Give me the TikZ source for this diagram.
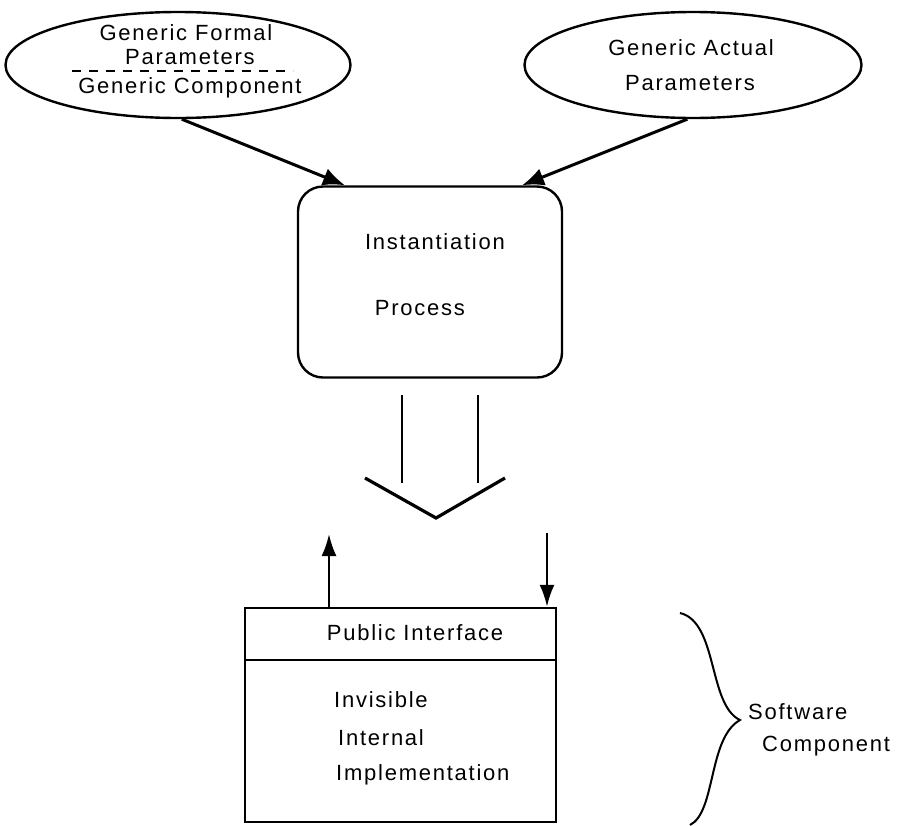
\documentclass[tikz,border=0pt]{standalone}
\usepackage{fontspec}
\setmainfont[LetterSpace=8]{Liberation Sans}
\usetikzlibrary{positioning,shapes.geometric,arrows.meta}

\begin{document}
\begin{tikzpicture}
        [x=1pt,y=-1pt,
         every node/.style={font=\fontsize{22}{26}\selectfont,inner sep=0pt},
         oval/.style={draw,ellipse,line width=2.4pt},
         procbox/.style={draw,rounded corners=25pt,line width=2.4pt},
         compbox/.style={draw,line width=2.4pt},
         feed/.style={line width=3pt,-{Latex[length=22pt,width=18pt]}},
         flow/.style={line width=2.4pt,-{Latex[length=22pt,width=15pt]}}]
        \useasboundingbox (0,0) rectangle (901,825);
        % parameter ovals
        \node[oval,minimum width=345pt,minimum height=106pt] (formal) at (178,65) {};
        \node (formal1) at (186,33) {Generic Formal};
        \node (formal2) at (190,57) {Parameters};
        \node (formal3) at (190,88) {Generic Component};
        \draw[line width=2.2pt,dash pattern=on 9pt off 8pt] (72,71) -- (293,71);
        \node[oval,minimum width=337pt,minimum height=106pt] (actual) at (693,65) {};
        \node (actual1) at (691,48) {Generic Actual};
        \node (actual2) at (690,83) {Parameters};
        % instantiation
        \node[procbox,minimum width=264pt,minimum height=191pt] (inst) at (430,282) {};
        \node (inst1) at (435,242) {Instantiation};
        \node (inst2) at (420,308) {Process};
        \draw[feed] (formal.-86) -- ([xshift=-85pt]inst.north);
        \draw[feed] (actual.-96) -- ([xshift=92pt]inst.north);
        % hollow arrow
        \draw[line width=2pt] (402,395) -- (402,483);
        \draw[line width=2pt] (478,395) -- (478,483);
        \draw[line width=3.2pt] (365,478) -- (436,518) -- (505,478);
        % software component
        \node[compbox,minimum width=311pt,minimum height=214pt] (comp) at (400.5,715) {};
        \draw[line width=2.4pt] (comp.west |- 0,660) -- (comp.east |- 0,660);
        \node (pub) at (415,633) {Public Interface};
        \node[anchor=west] (inv1) at (334,700) {Invisible};
        \node[anchor=west] (inv2) at (338,738) {Internal};
        \node[anchor=west] (inv3) at (336,775) {Implementation};
        \coordinate (upend) at (329,534);
        \coordinate (downstart) at (547,533);
        \draw[flow] (comp.north -| upend) -- (upend);
        \draw[flow] (downstart) -- (comp.north -| downstart);
        % brace
        \draw[line width=2pt] (680,613) .. controls (718,622) and (708,705) .. (740,720)
            .. controls (708,738) and (716,812) .. (690,825);
        \node[anchor=west] (sw1) at (748,712) {Software};
        \node[anchor=west] (sw2) at (762,746) {Component};
\end{tikzpicture}
\end{document}
